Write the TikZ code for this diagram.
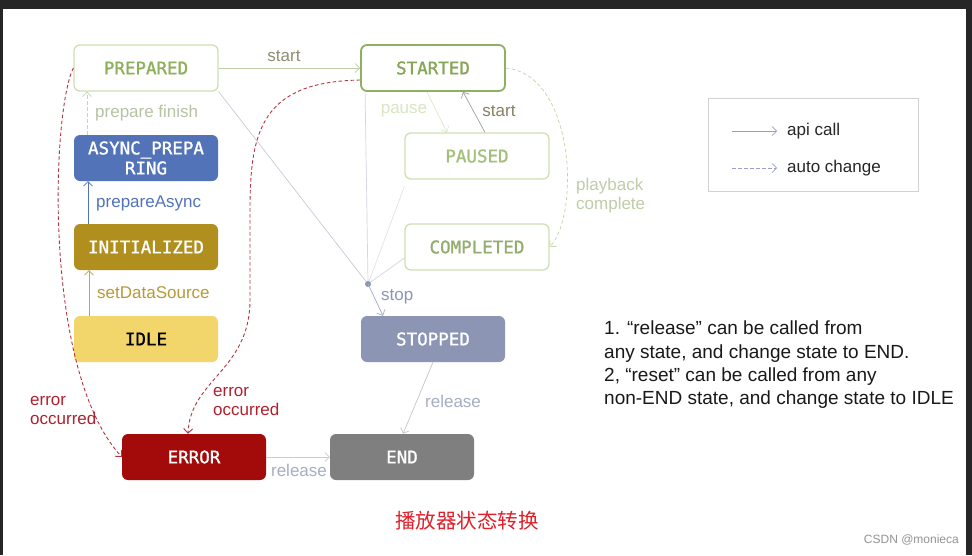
\documentclass[tikz,border=0pt]{standalone}
\usepackage{fontspec}
\setmainfont{Liberation Sans}
\newfontfamily\statefont[FakeBold=1.2]{DejaVu Sans Mono}
\newfontfamily\cjk{Noto Sans CJK SC}
\usetikzlibrary{arrows.meta}
\definecolor{lgreenb}{HTML}{CFE0B2}
\definecolor{dgreenb}{HTML}{8FB062}
\definecolor{gtext}{HTML}{8DAF5A}
\definecolor{ltgtext}{HTML}{A3C07A}
\definecolor{bluef}{HTML}{5373B9}
\definecolor{goldf}{HTML}{B08F1E}
\definecolor{yellowf}{HTML}{F2D66C}
\definecolor{stopf}{HTML}{8C96B4}
\definecolor{errf}{HTML}{A30B0B}
\definecolor{endf}{HTML}{7F7F7F}
\definecolor{reddash}{HTML}{B23443}
\definecolor{redlab}{HTML}{B0202E}
\definecolor{junc}{HTML}{C9CAD9}
\definecolor{relcol}{HTML}{A6AEC4}
\definecolor{titlered}{HTML}{E0212B}
\tikzset{
  state/.style={rounded corners=6pt, minimum width=144pt, minimum height=46pt, inner sep=0pt,
    font=\statefont\fontsize{17.5}{20}\selectfont, align=center},
  lstate/.style={state, draw=lgreenb, line width=1.3pt, fill=white, text=gtext},
  fstate/.style={state, text=white},
  lab/.style={font=\fontsize{17}{19}\selectfont, inner sep=0pt},
  arr/.style={-{Straight Barb[length=4.5pt,width=9pt]}, line width=0.7pt},
  dsh/.style={dash pattern=on 3.5pt off 2.5pt},
}
\begin{document}
\begin{tikzpicture}[x=1pt,y=-1pt]
\useasboundingbox (0,0) rectangle (972,555);
\fill[black!85] (0,0) rectangle (972,555);
\fill[white] (3,9) rectangle (966,555);

% states
\node[lstate] (prep) at (146,68) {PREPARED};
\node[lstate, draw=dgreenb, line width=1.8pt, text=gtext!95!black] (start) at (433,68) {STARTED};
\node[fstate, fill=bluef] (async) at (146,158) {ASYNC\_PREPA\\RING};
\node[fstate, fill=goldf] (init) at (146,247) {INITIALIZED};
\node[state, fill=yellowf, text=black] (idle) at (146,339) {IDLE};
\node[lstate, text=ltgtext] (paused) at (477,156) {PAUSED};
\node[lstate, text=ltgtext!90!black] (comp) at (477,247) {COMPLETED};
\node[fstate, fill=stopf] (stop) at (433,339) {STOPPED};
\node[fstate, fill=errf] (err) at (194,457) {ERROR};
\node[fstate, fill=endf] (endn) at (402,457) {END};
\coordinate (j) at (368,284);

% left column
\draw[arr, dsh, color=lgreenb!90!gray] ([xshift=-59pt]async.north) -- ([xshift=-59pt]prep.south);
\node[lab, text=lgreenb!70!gray, anchor=west] (lpf) at (95,113) {prepare finish};
\draw[arr, color=bluef] ([xshift=-58pt]init.north) -- ([xshift=-58pt]async.south);
\node[lab, text=bluef, anchor=west] (lpa) at (96,203) {prepareAsync};
\draw[arr, color=goldf!80!white] ([xshift=-57pt]idle.north) -- ([xshift=-57pt]init.south);
\node[lab, text=goldf!90!white, anchor=west] (lsd) at (97,293) {setDataSource};

% prepared -> started
\draw[arr, color=lgreenb!80!gray] (prep.east) -- (start.west);
\node[lab, text=gray!80!olive] (ls1) at (284,56) {start};

% pause / start
\draw[arr, color=lgreenb!70!white] ([xshift=-6pt]start.south) -- ([xshift=-30pt]paused.north);
\node[lab, text=lgreenb!80!white] (lpause) at (404,111) {pause};
\draw[arr, color=gray!75] ([xshift=8pt]paused.north) -- ([xshift=30pt]start.south);
\node[lab, text=gray!70!olive!90!black] (ls2) at (499,111) {start};

% playback complete
\draw[arr, dsh, color=lgreenb!85!gray] (start.east) .. controls (575,75) and (580,215) .. (comp.east);
\node[lab, text=lgreenb!80!gray, align=left, anchor=west] (lpc) at (576,196) {playback\\complete};

% stop junction
\draw[color=junc, line width=0.7pt] (prep.south east) -- (j);
\draw[color=junc!80!white, line width=0.7pt] ([xshift=5pt]start.south west) -- (j);
\draw[color=junc!60!white, line width=0.6pt] ([yshift=-7pt]paused.south west) -- (j);
\draw[color=junc!80!white, line width=0.7pt] ([yshift=-11pt]comp.west) -- (j);
\fill[stopf] (j) circle (3pt);
\draw[arr, color=stopf!80!white] (j) -- ([xshift=-50pt]stop.north);
\node[lab, text=stopf, anchor=west] (lstop) at (381,297) {stop};

% release
\draw[arr, color=gray!45] ([xshift=0pt]stop.south) -- ([xshift=1pt]endn.north);
\node[lab, text=relcol, anchor=west] (lr1) at (425,401) {release};
\draw[arr, color=gray!40] (err.east) -- (endn.west);
\node[lab, text=relcol] (lr2) at (299,470) {release};

% errors
\draw[arr, dsh, color=reddash, line width=0.9pt] (prep.west) .. controls (52,110) and (42,370) .. (err.west);
\node[lab, text=redlab, align=left, anchor=west] (le1) at (30,411) {error\\occurred};
\draw[arr, dsh, color=reddash, line width=0.9pt] ([yshift=-12pt]start.west) .. controls (262,82) and (250,130) .. (250,210) -- (250,300) .. controls (250,370) and (190,380) .. ([xshift=-6pt]err.north);
\node[lab, text=redlab, align=left, anchor=west] (le2) at (213,402) {error\\occurred};

% legend
\draw[color=gray!35, line width=0.8pt] (708,98) rectangle (918,191);
\coordinate (l1a) at (732,131); \coordinate (l1b) at (777,131);
\coordinate (l2a) at (732,168); \coordinate (l2b) at (777,168);
\draw[arr, color=gray!70!blue!60] (l1a) -- (l1b);
\draw[arr, dsh, color=gray!70!blue!60] (l2a) -- (l2b);
\node[lab, anchor=west, text=black!85] (lapi) at (787,131) {api call};
\node[lab, anchor=west, text=black!85] (lauto) at (787,168) {auto change};

% notes
\node[anchor=north west, align=left, inner sep=0pt, text=black!90,
  font=\fontsize{19}{23.3}\selectfont] (notes) at (604,321)
  {1. “release” can be called from\\any state, and change state to END.\\2, “reset” can be called from any\\non-END state, and change state to IDLE};

% title
\node[font=\cjk\fontsize{20.5}{22}\selectfont, text=titlered] (title) at (467,521) {播放器状态转换};
\node[font=\fontsize{12}{14}\selectfont, text=gray!85, anchor=east, inner sep=0pt] (wm) at (959,540) {CSDN @monieca};
\end{tikzpicture}
\end{document}
